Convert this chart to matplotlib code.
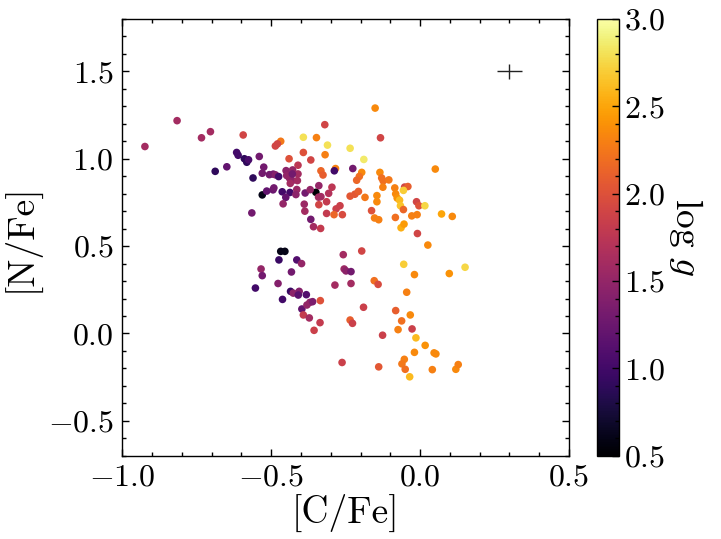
import numpy as np
import matplotlib
matplotlib.use("Agg")
import matplotlib.pyplot as plt
from matplotlib.ticker import MultipleLocator

plt.rcParams['font.family'] = 'serif'
plt.rcParams['font.serif'] = ['cmr10']
plt.rcParams['mathtext.fontset'] = 'cm'
plt.rcParams['axes.formatter.use_mathtext'] = True
plt.rcParams['axes.unicode_minus'] = True

# [C/Fe], [N/Fe] and log g
c_fe = [
    -0.924, -0.816, -0.734, -0.704, -0.594, -0.468, -0.486, -0.479, -0.616, -0.611,
    -0.590, -0.582, -0.576, -0.540, -0.688, -0.649, -0.561, -0.525, -0.530, -0.506,
    -0.493, -0.486, -0.475, -0.450, -0.428, -0.530, -0.515, -0.494, -0.491, -0.463,
    -0.437, -0.451, -0.460, -0.565, -0.440, -0.410, -0.392, -0.348, -0.320, -0.311,
    -0.392, -0.367, -0.319, -0.333, -0.326, -0.284, -0.288, -0.448, -0.439, -0.429,
    -0.436, -0.412, -0.410, -0.429, -0.414, -0.386, -0.350, -0.369, -0.340, -0.341,
    -0.333, -0.314, -0.307, -0.296, -0.417, -0.389, -0.387, -0.367, -0.358, -0.334,
    -0.314, -0.282, -0.269, -0.340, -0.289, -0.261,
    -0.151, -0.133, -0.235, -0.189, -0.226, -0.196, -0.204, -0.213, -0.135, -0.129,
    -0.124, -0.105, -0.125, 0.051, -0.085, -0.052, -0.041, -0.056, -0.082, -0.077,
    -0.069, -0.066, -0.056, -0.012, -0.004, 0.016, -0.028, -0.010, -0.064, -0.054,
    -0.009, 0.072, 0.108, 0.026, -0.235, -0.219, -0.207, -0.185, -0.145, -0.145,
    -0.163, -0.153, -0.139, -0.083,
    -0.468, -0.454, -0.474, -0.414, -0.398, -0.534, -0.530, -0.432, -0.553, -0.477,
    -0.462, -0.435, -0.426, -0.406, -0.409, -0.382, -0.397, -0.380, -0.370, -0.361,
    -0.335, -0.392, -0.372, -0.336, -0.356, -0.258, -0.196, -0.255, -0.249, -0.232,
    -0.286, -0.232, -0.154, -0.141, -0.190, -0.235, -0.227, -0.126, -0.262, -0.139,
    -0.055, -0.019, 0.098, 0.151, -0.045, -0.082, -0.033, -0.062, -0.074, -0.027,
    -0.014, 0.017, -0.019, 0.047, 0.053, -0.053, -0.061, -0.050, -0.035, 0.041,
    0.120, 0.128,
]
n_fe = [
    1.070, 1.218, 1.120, 1.155, 1.136, 1.100, 1.073, 1.085, 1.036, 1.020,
    1.000, 0.980, 0.994, 1.013, 0.928, 0.954, 0.890, 0.952, 0.917, 0.909,
    0.912, 0.908, 0.898, 0.932, 0.936, 0.793, 0.815, 0.822, 0.833, 0.811,
    0.807, 0.779, 0.742, 0.690, 1.000, 0.963, 1.123, 1.121, 1.195, 1.078,
    1.036, 0.993, 1.023, 0.931, 0.907, 0.944, 0.931, 0.904, 0.890, 0.875,
    0.859, 0.875, 0.913, 0.913, 0.824, 0.804, 0.808, 0.823, 0.846, 0.780,
    0.783, 0.754, 0.802, 0.837, 0.795, 0.740, 0.700, 0.653, 0.611, 0.601,
    0.687, 0.713, 0.731, 0.737, 0.680, 0.680,
    1.290, 1.120, 1.060, 0.996, 0.944, 0.922, 0.899, 0.877, 0.922, 0.890,
    0.873, 0.879, 0.837, 0.941, 0.833, 0.838, 0.841, 0.819, 0.799, 0.775,
    0.763, 0.731, 0.709, 0.754, 0.731, 0.731, 0.673, 0.680, 0.605, 0.626,
    0.572, 0.684, 0.670, 0.506, 0.786, 0.797, 0.813, 0.779, 0.789, 0.754,
    0.703, 0.661, 0.651, 0.664,
    0.470, 0.470, 0.421, 0.421, 0.400, 0.369, 0.331, 0.352, 0.260, 0.286,
    0.195, 0.241, 0.231, 0.241, 0.220, 0.222, 0.140, 0.163, 0.178, 0.182,
    0.188, 0.106, 0.089, 0.062, 0.018, 0.451, 0.472, 0.369, 0.358, 0.354,
    0.277, 0.286, 0.302, 0.281, 0.150, 0.077, 0.058, -0.010, -0.166, -0.191,
    0.396, 0.337, 0.343, 0.379, 0.236, 0.131, 0.106, 0.072, 0.022, 0.026,
    -0.025, -0.068, -0.108, -0.111, -0.117, -0.148, -0.174, -0.205, -0.248, -0.207,
    -0.205, -0.178,
]
log_g = [
    1.6, 1.6, 1.6, 1.6, 1.9, 2.25, 1.9, 1.9, 1.0, 1.0,
    0.9, 0.9, 1.05, 1.3, 0.9, 1.2, 0.9, 1.3, 1.3, 1.3,
    1.3, 1.4, 1.0, 1.45, 1.5, 0.6, 1.2, 1.25, 1.3, 1.0,
    1.0, 1.2, 1.5, 1.3, 2.0, 1.75, 2.8, 2.3, 1.9, 2.8,
    2.0, 1.9, 2.3, 2.15, 2.1, 2.3, 1.0, 1.5, 1.5, 1.45,
    1.6, 1.6, 1.6, 1.3, 1.55, 1.3, 0.5, 1.5, 1.5, 1.6,
    1.6, 1.8, 1.7, 1.75, 1.45, 1.55, 1.6, 1.3, 1.6, 1.8,
    1.8, 1.85, 1.85, 1.9, 2.15, 1.95,
    2.35, 1.9, 2.8, 2.85, 1.3, 2.35, 2.2, 2.15, 2.35, 2.2,
    2.2, 2.25, 2.3, 2.35, 2.3, 1.9, 2.1, 2.7, 2.35, 2.4,
    2.6, 2.65, 2.15, 1.9, 2.0, 2.75, 2.3, 2.3, 2.55, 2.45,
    1.9, 2.5, 2.35, 2.35, 2.05, 2.05, 2.1, 2.25, 2.35, 2.35,
    2.0, 2.3, 2.3, 2.2,
    0.6, 0.6, 0.95, 1.1, 1.5, 1.5, 1.3, 1.3, 1.0, 1.4,
    1.0, 0.95, 1.45, 1.4, 1.15, 1.1, 1.2, 1.5, 1.5, 1.35,
    2.0, 1.8, 1.6, 1.8, 1.85, 1.6, 1.9, 1.55, 1.45, 1.3,
    1.6, 1.6, 2.2, 1.95, 1.85, 2.1, 1.85, 1.85, 1.85, 2.05,
    2.7, 2.35, 2.4, 2.75, 2.3, 2.1, 2.35, 2.2, 2.3, 1.85,
    2.6, 2.4, 2.35, 2.35, 2.35, 2.3, 2.25, 2.2, 2.6, 2.3,
    2.35, 2.3,
]

# typical uncertainty shown as a cross
err_pos = (0.30, 1.50)
err_c, err_n = 0.043, 0.045

fig = plt.figure(figsize=(7.21, 5.39), dpi=100)
ax = fig.add_axes([0.1696, 0.1544, 0.6196, 0.8104])
cax = fig.add_axes([0.8276, 0.1544, 0.0305, 0.8104])

sc = ax.scatter(c_fe, n_fe, c=log_g, cmap='inferno', vmin=0.5, vmax=3.0,
                s=30, edgecolors='none')
ax.errorbar(err_pos[0], err_pos[1], xerr=err_c, yerr=err_n, fmt='none',
            ecolor='#222222', elinewidth=1.0, capsize=0)

ax.set_xlim(-1.0, 0.5)
ax.set_ylim(-0.7, 1.8)
ax.xaxis.set_major_locator(MultipleLocator(0.5))
ax.xaxis.set_minor_locator(MultipleLocator(0.1))
ax.yaxis.set_major_locator(MultipleLocator(0.5))
ax.yaxis.set_minor_locator(MultipleLocator(0.1))
ax.tick_params(which='both', direction='in', top=True, right=True,
               labelsize=23, width=1.0, pad=6)
ax.tick_params(which='major', length=5)
ax.tick_params(which='minor', length=2.8)
for sp in ax.spines.values():
    sp.set_linewidth(1.0)

ax.set_xlabel('[C/Fe]', fontsize=27, labelpad=2)
ax.set_ylabel('[N/Fe]', fontsize=27, labelpad=6)

cb = fig.colorbar(sc, cax=cax)
cb.set_ticks([0.5, 1.0, 1.5, 2.0, 2.5, 3.0])
cb.ax.yaxis.set_minor_locator(MultipleLocator(0.1))
cb.ax.tick_params(which='both', direction='in', labelsize=23, width=1.0, pad=4)
cb.ax.tick_params(which='major', length=5)
cb.ax.tick_params(which='minor', length=2.8)
cb.outline.set_linewidth(1.0)
cb.set_label(r'$\log\, g$', fontsize=27, rotation=270, labelpad=28)

fig.savefig('out.png', dpi=100)
